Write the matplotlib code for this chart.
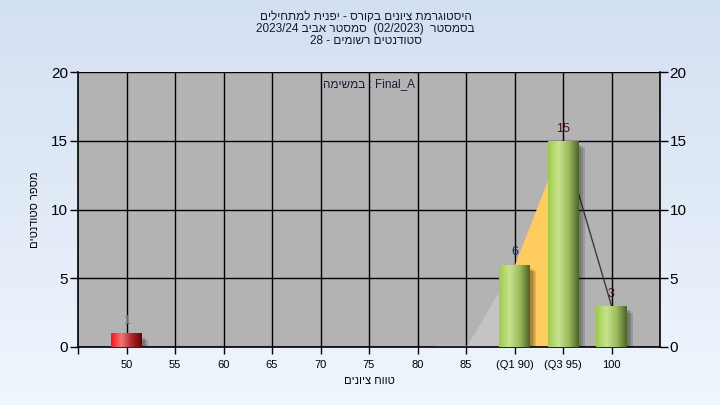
import re
import numpy as np
import matplotlib
matplotlib.use('Agg')
import matplotlib.pyplot as plt
from matplotlib.colors import LinearSegmentedColormap
from matplotlib.patches import Rectangle

plt.rcParams['font.family'] = ['Liberation Sans', 'DejaVu Sans']

# ---- Data ----
categories = ['50', '55', '60', '65', '70', '75', '80', '85', '(Q1 90)', '(Q3 95)', '100']
counts = [1, 0, 0, 0, 0, 0, 0, 0, 6, 15, 3]
failing = ['50']                     # bars drawn in red
curve_x = ['85', '(Q1 90)', '(Q3 95)', '100']
curve_y = [0, 6, 15, 3]
label_colors = {'50': '#4f7f9f', '(Q1 90)': '#1a2a5a', '(Q3 95)': '#4a1010', '100': '#4a1010'}

title_lines = ['היסטוגרמת ציונים בקורס - יפנית למתחילים',
               'בסמסטר  (02/2023)  סמסטר אביב 2023/24',
               'סטודנטים רשומים - 28']
task_name = 'Final_A'
x_title = 'טווח ציונים'
y_title = 'מספר סטודנטים'


def vis(s):
    # crude RTL -> visual order (matplotlib has no bidi support)
    out = []
    for t in reversed(s.split(' ')):
        out.append(t[::-1] if re.search('[\u0590-\u05FF]', t) else t)
    return ' '.join(out)


fig = plt.figure(figsize=(7.2, 4.05), dpi=100)

# background gradient
bg = fig.add_axes([0, 0, 1, 1], zorder=-10)
grad = np.linspace(0, 1, 256).reshape(-1, 1)
bg_cmap = LinearSegmentedColormap.from_list('bg', ['#d3e0f2', '#eff6fd'])
bg.imshow(grad, aspect='auto', cmap=bg_cmap, extent=[0, 1, 0, 1])
bg.axis('off')

ax = fig.add_axes([78 / 720, 58 / 405, 582 / 720, 275 / 405])
ax.set_facecolor('#b3b3b3')
x = np.arange(len(categories))

# background curve (area + line)
cx = [categories.index(c) for c in curve_x]
ax.fill_between(cx[0:2], [0, 0], curve_y[0:2], color='#c4c4c4', lw=0, zorder=1)
ax.fill_between(cx[1:3], [0, 0], curve_y[1:3], color='#ffcb5c', lw=0, zorder=1)
ax.plot(cx[2:4], curve_y[2:4], color='#3a3a3a', lw=1, zorder=1)
ax.plot([cx[0] - 0.6, cx[0]], [0.05, 0.05], color='#e0e0e0', lw=1, zorder=1)

green = LinearSegmentedColormap.from_list('g', ['#9ccc48', '#c9e28e', '#9fbc5c', '#4a6424'])
red = LinearSegmentedColormap.from_list('r', ['#ff1010', '#f07878', '#b02828', '#6a0000'])
hgrad = np.linspace(0, 1, 128).reshape(1, -1)

w = 0.62
for i, (cat, v) in enumerate(zip(categories, counts)):
    if v <= 0:
        continue
    # soft shadow
    for k, a in enumerate([0.12, 0.12, 0.14]):
        off = 0.035 * (k + 1)
        ax.add_patch(Rectangle((i - w / 2 + off + 0.03, -0.3), w, v - 0.1 * k,
                               facecolor='black', alpha=a, lw=0, zorder=2))
    rect = Rectangle((i - w / 2, 0), w, v, facecolor='none', lw=0, zorder=3)
    ax.add_patch(rect)
    im = ax.imshow(hgrad, aspect='auto', cmap=red if cat in failing else green,
                   extent=[i - w / 2, i + w / 2, 0, v], zorder=3)
    im.set_clip_path(rect)
    ax.text(i, v + 0.45, str(v), ha='center', va='bottom', fontsize=9,
            color=label_colors.get(cat, 'black'), zorder=5)

ax.set_xlim(-1, len(categories))
ax.set_ylim(0, 20)

# grid and axes
ax.set_xticks(x)
ax.set_xticklabels(categories, fontsize=8)
ax.set_xticks([-1], minor=True)
ax.set_yticks([0, 5, 10, 15, 20])
ax.tick_params(axis='y', labelsize=11, length=6, width=1, right=True, labelright=True,
               pad=1, colors='black')
ax.tick_params(axis='x', length=5, width=1, pad=4)
ax.tick_params(axis='x', which='minor', length=5, width=1)
ax.grid(True, color='black', lw=1, zorder=0)
ax.set_axisbelow(True)
for s in ['left', 'right', 'bottom']:
    ax.spines[s].set_linewidth(1.2)
ax.spines['top'].set_visible(False)

ax.set_xlabel(vis(x_title), fontsize=8, labelpad=5)
ax.set_ylabel(vis(y_title), fontsize=8, labelpad=8)
ax.text(0.5, 0.955, vis('במשימה') + ' : ' + task_name, transform=ax.transAxes,
        ha='center', va='center', fontsize=8.5, color='#1a1a3a')

for k, line in enumerate(title_lines):
    fig.text(0.508, 1 - (17 + 12 * k) / 405, vis(line), ha='center', va='center',
             fontsize=8.5, color='#1a1a2a')

fig.savefig('out.png', dpi=100)
